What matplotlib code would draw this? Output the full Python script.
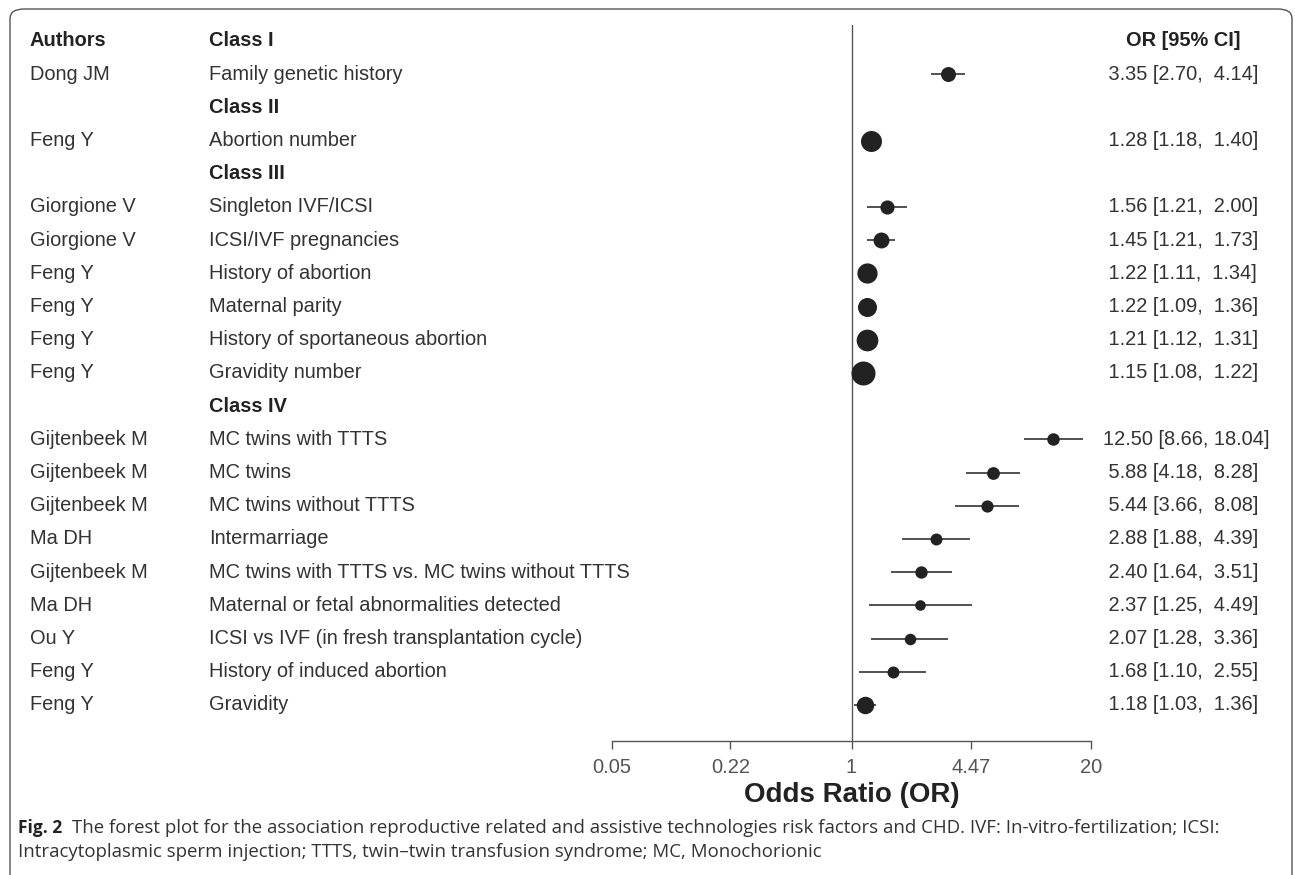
import numpy as np
import matplotlib
matplotlib.use("Agg")
import matplotlib.pyplot as plt
from matplotlib import transforms
from matplotlib.patches import FancyBboxPatch
from matplotlib.ticker import NullLocator

plt.rcParams['font.family'] = ['Liberation Sans', 'DejaVu Sans']

# data
classes = ["Class I", "Class II", "Class III", "Class IV"]
class_sizes = [1, 1, 6, 9]
authors = ["Dong JM",
           "Feng Y",
           "Giorgione V", "Giorgione V", "Feng Y", "Feng Y", "Feng Y", "Feng Y",
           "Gijtenbeek M", "Gijtenbeek M", "Gijtenbeek M", "Ma DH", "Gijtenbeek M",
           "Ma DH", "Ou Y", "Feng Y", "Feng Y"]
factors = ["Family genetic history",
           "Abortion number",
           "Singleton IVF/ICSI", "ICSI/IVF pregnancies", "History of abortion",
           "Maternal parity", "History of sportaneous abortion", "Gravidity number",
           "MC twins with TTTS", "MC twins", "MC twins without TTTS", "Intermarriage",
           "MC twins with TTTS vs. MC twins without TTTS",
           "Maternal or fetal abnormalities detected",
           "ICSI vs IVF (in fresh transplantation cycle)",
           "History of induced abortion", "Gravidity"]
or_est = [3.35, 1.28, 1.56, 1.45, 1.22, 1.22, 1.21, 1.15,
          12.50, 5.88, 5.44, 2.88, 2.40, 2.37, 2.07, 1.68, 1.18]
ci_low = [2.70, 1.18, 1.21, 1.21, 1.11, 1.09, 1.12, 1.08,
          8.66, 4.18, 3.66, 1.88, 1.64, 1.25, 1.28, 1.10, 1.03]
ci_high = [4.14, 1.40, 2.00, 1.73, 1.34, 1.36, 1.31, 1.22,
           18.04, 8.28, 8.08, 4.39, 3.51, 4.49, 3.36, 2.55, 1.36]
xticks = [0.05, 0.22, 1, 4.47, 20]
xtick_labels = ["0.05", "0.22", "1", "4.47", "20"]

W, H = 1295, 875
def fx(x):
    return x / W
def fy(y):
    return 1 - y / H

fig = plt.figure(figsize=(W / 100, H / 100), dpi=100)
fig.patch.set_facecolor("white")

# outer rounded frame
frame = FancyBboxPatch((fx(10), fy(890)), fx(1292) - fx(10), fy(9) - fy(890),
                       boxstyle="round,pad=0,rounding_size=0.011",
                       transform=fig.transFigure, fill=False,
                       edgecolor="#555555", lw=1.0)
fig.patches.append(frame)

row_h = 33.2
y_first = 41
ax = fig.add_axes([fx(612), fy(741), (1091 - 612) / W, (741 - 25) / H])
ax.set_xscale("log")
ax.set_xlim(0.05, 20)
ax.set_ylim((741 - y_first) / row_h, (25 - y_first) / row_h)
ax.patch.set_alpha(0)
for s in ["top", "right", "left"]:
    ax.spines[s].set_visible(False)
ax.spines["bottom"].set_color("#555555")
ax.spines["bottom"].set_linewidth(1.0)
ax.set_yticks([])
ax.set_xticks(xticks)
ax.set_xticklabels(xtick_labels)
ax.xaxis.set_minor_locator(NullLocator())
ax.tick_params(axis="x", length=5.5, width=1.0, color="#555555",
               labelcolor="#555555", labelsize=14.5, pad=7)
ax.axvline(1, color="#555555", lw=1.0)

trans = transforms.blended_transform_factory(fig.transFigure, ax.transData)
txt_col = "#333333"
fs = 14.4

# marker size from precision (1/se), as in the original plot
se = (np.log(ci_high) - np.log(ci_low)) / 3.92
prec = np.sqrt(1 / se)
norm = (prec - prec.min()) / (prec.max() - prec.min())
radius_px = 5.3 + 6.7 * norm

ax.text(fx(30), 0, "Authors", transform=trans, ha="left", va="center",
        fontsize=fs, fontweight="bold", color="#222222")
ax.text(fx(1241), 0, "OR [95% CI]", transform=trans, ha="right", va="center",
        fontsize=fs, fontweight="bold", color="#222222")

row = 0
k = 0
for c, n in zip(classes, class_sizes):
    ax.text(fx(209), row, c, transform=trans, ha="left", va="center",
            fontsize=fs, fontweight="bold", color="#222222")
    row += 1
    for j in range(n):
        ax.text(fx(30), row, authors[k], transform=trans, ha="left", va="center",
                fontsize=fs, color=txt_col)
        ax.text(fx(209), row, factors[k], transform=trans, ha="left", va="center",
                fontsize=fs, color=txt_col)
        label = f"{or_est[k]:5.2f} [{ci_low[k]:4.2f}, {ci_high[k]:5.2f}]"
        ax.text(fx(1103), row, label, transform=trans, ha="left", va="center",
                fontsize=fs, color=txt_col)
        ax.plot([ci_low[k], ci_high[k]], [row, row], color="#222222", lw=1.1,
                solid_capstyle="butt", clip_on=False)
        ax.plot(or_est[k], row, "o", ms=2 * radius_px[k] * 0.72, color="#222222",
                mec="none", clip_on=False)
        row += 1
        k += 1

fig.text(fx(851.5), fy(795), "Odds Ratio (OR)", ha="center", va="center",
         fontsize=20, fontweight="bold", color="#222222")

# caption
cap1 = ("The forest plot for the association reproductive related and assistive "
        "technologies risk factors and CHD. IVF: In-vitro-fertilization; ICSI:")
cap2 = ("Intracytoplasmic sperm injection; TTTS, twin\u2013twin transfusion syndrome; "
        "MC, Monochorionic")
fig.text(fx(18), fy(828), "Fig. 2", ha="left", va="center", fontsize=12.5,
         fontweight="bold", color="#222222", family=["Open Sans", "DejaVu Sans"])
t1 = fig.text(fx(72), fy(828), cap1, ha="left", va="center", fontsize=11,
              color="#333333", family=["Open Sans", "DejaVu Sans"])
t2 = fig.text(fx(18), fy(852), cap2, ha="left", va="center", fontsize=11,
              color="#333333", family=["Open Sans", "DejaVu Sans"])
# squeeze the caption to the width of the original condensed typeface
r = fig.canvas.get_renderer()
w1 = t1.get_window_extent(r).width
cap_fs = 11 * (1225 - 72) / w1
t1.set_fontsize(cap_fs)
t2.set_fontsize(cap_fs)

fig.savefig("out.png", dpi=100, facecolor="white")
